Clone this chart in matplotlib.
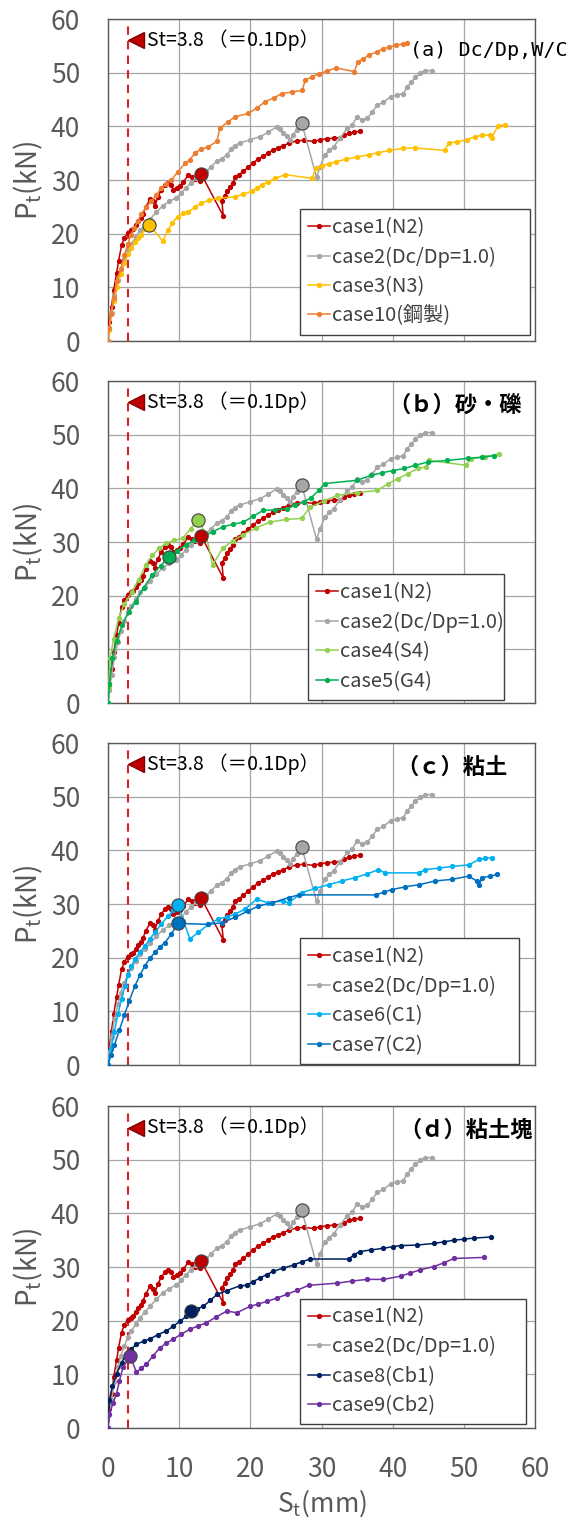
import matplotlib
matplotlib.use("Agg")
import matplotlib.pyplot as plt

plt.rcParams['font.family'] = ['Noto Sans CJK JP', 'DejaVu Sans']
plt.rcParams['mathtext.default'] = 'regular'

# ---- data (St in mm, Pt in kN) ----
case1_x = [0, 0.2, 0.5, 0.8, 1.2, 1.5, 1.9, 2.3, 2.8, 3.2, 3.5, 3.9, 4.2, 4.6, 4.9, 5.3, 5.9, 6.3, 6.6, 7.0,
           7.5, 8.0, 8.5, 8.9, 9.2, 9.7, 10.1, 10.6, 11.3, 11.8, 12.2, 12.9, 13.1, 16.2, 16.0, 16.4, 16.7, 17.2, 17.6, 17.8,
           18.4, 19.0, 19.7, 20.4, 21.1, 21.8, 22.5, 23.2, 23.9, 24.6, 25.5, 26.5, 27.5, 28.9, 29.8, 30.8, 31.7, 32.6, 33.2, 33.8,
           34.6, 35.4]
case1_y = [0, 3.5, 6.4, 9.5, 12.6, 15.0, 17.8, 19.2, 20.2, 20.6, 20.9, 21.6, 22.4, 23.0, 23.6, 25.0, 26.4, 26.0, 25.2, 26.8,
           28.2, 29.0, 29.5, 29.0, 28.2, 28.5, 28.9, 29.6, 31.0, 30.6, 30.1, 29.8, 31.1, 23.3, 26.1, 27.0, 27.9, 28.7, 29.5, 30.5,
           31.0, 31.6, 32.4, 33.2, 33.9, 34.4, 35.0, 35.6, 36.0, 36.4, 36.9, 37.3, 37.4, 37.2, 37.5, 37.7, 37.8, 37.9, 38.3, 38.7,
           38.9, 39.1]

case2_x = [0, 0.2, 0.5, 0.9, 1.4, 1.8, 2.3, 2.8, 3.3, 3.9, 4.5, 5.2, 5.9, 6.8, 7.7, 8.6, 9.6, 10.3, 11.0, 11.7,
           12.4, 13.1, 13.8, 14.5, 15.3, 16.0, 16.7, 17.3, 17.8, 18.5, 20.0, 21.4, 22.5, 23.7, 24.2, 24.6, 25.1, 25.6, 26.0, 26.5,
           27.2, 29.3, 29.8, 30.5, 31.1, 31.7, 32.6, 33.6, 34.3, 35.0, 35.7, 36.4, 37.1, 37.8, 38.7, 39.7, 40.6, 41.5, 42.0, 42.6,
           43.2, 43.9, 44.6, 45.5]
case2_y = [0, 2.5, 5.2, 8.5, 11.3, 13.5, 15.3, 17.0, 18.1, 19.4, 20.6, 21.6, 22.7, 24.0, 25.2, 26.0, 26.7, 27.6, 28.6, 29.5,
           30.4, 31.0, 31.6, 32.5, 33.5, 34.0, 34.7, 35.8, 36.4, 36.9, 37.5, 38.1, 38.9, 39.9, 39.5, 38.7, 38.2, 37.5, 38.4, 39.3,
           40.7, 30.5, 32.5, 34.7, 35.5, 36.2, 37.8, 39.6, 40.2, 41.8, 41.2, 41.5, 42.6, 43.9, 44.5, 45.5, 45.8, 46.1, 47.3, 48.2,
           49.2, 49.9, 50.4, 50.4]

case3_x = [0, 0.2, 0.4, 0.8, 1.2, 1.8, 2.3, 2.8, 3.2, 3.8, 4.2, 4.7, 5.2, 5.8, 7.7, 8.4, 9.0, 9.8, 10.5, 11.3,
           12.2, 13.1, 14.2, 15.5, 17.9, 19.0, 20.2, 21.0, 21.6, 22.5, 23.5, 24.9, 28.7, 29.2, 30.0, 31.0, 32.0, 33.5, 35.0, 36.7,
           38.0, 39.5, 41.4, 43.1, 47.3, 47.9, 49.0, 50.5, 51.6, 52.5, 53.7, 53.9, 54.8, 55.8]
case3_y = [0, 2.0, 5.0, 7.5, 10.0, 12.4, 14.5, 16.2, 17.3, 18.5, 19.2, 19.8, 20.8, 21.7, 18.6, 20.6, 22.0, 23.2, 23.8, 24.1,
           24.9, 25.7, 26.2, 26.6, 26.9, 27.4, 27.9, 28.6, 29.1, 29.6, 30.3, 31.0, 30.3, 32.2, 32.6, 33.0, 33.4, 33.9, 34.3, 34.7,
           35.1, 35.5, 35.9, 36.0, 35.5, 36.9, 37.1, 37.5, 38.1, 38.3, 38.4, 37.8, 40.1, 40.3]

case10_x = [0, 0.2, 0.4, 0.8, 1.2, 1.8, 2.3, 2.8, 3.2, 3.7, 4.2, 4.7, 5.4, 6.1, 6.8, 7.5, 8.2, 8.9, 9.8, 10.8,
            11.5, 12.2, 13.0, 14.1, 15.3, 15.7, 16.8, 17.9, 19.7, 21.0, 22.1, 23.3, 24.4, 25.8, 27.3, 27.7, 28.6, 29.6, 30.8, 32.0,
            34.6, 35.1, 35.9, 36.7, 37.8, 38.6, 39.5, 40.5, 41.4, 42.0]
case10_y = [0, 2.5, 5.0, 8.0, 11.1, 13.5, 16.1, 18.0, 19.8, 21.0, 22.3, 23.7, 25.0, 26.0, 27.2, 28.5, 29.3, 30.0, 31.5, 33.1,
            33.8, 35.0, 35.7, 36.2, 37.2, 39.6, 40.8, 41.8, 42.4, 43.5, 44.6, 45.3, 46.1, 46.4, 46.7, 48.6, 49.2, 49.8, 50.3, 50.9,
            50.2, 52.0, 52.6, 53.3, 53.9, 54.4, 54.8, 55.1, 55.4, 55.6]

case4_x = [0, 0.1, 0.3, 0.8, 1.5, 2.3, 3.4, 4.3, 5.3, 6.2, 7.2, 8.2, 9.3, 10.5, 11.6, 12.7, 13.8, 14.7, 16.1, 17.5,
           18.9, 20.8, 22.7, 25.0, 27.2, 28.4, 30.3, 32.2, 35.0, 37.8, 39.3, 40.7, 42.1, 43.5, 44.7, 45.1, 50.3, 51.0, 53.0, 55.0]
case4_y = [0, 3.0, 8.4, 12.0, 15.8, 18.5, 20.7, 23.0, 25.7, 27.5, 28.8, 29.8, 30.3, 30.7, 32.5, 34.1, 31.3, 25.7, 28.8, 30.2,
           31.3, 32.6, 33.7, 34.2, 34.4, 36.5, 37.6, 38.7, 39.2, 39.6, 40.8, 41.8, 42.7, 43.7, 44.0, 45.2, 44.3, 45.5, 45.9, 46.4]

case5_x = [0, 0.2, 0.6, 1.2, 2.0, 2.9, 3.9, 5.0, 6.2, 7.4, 8.6, 9.7, 10.9, 12.1, 13.3, 14.7, 16.1, 17.5, 19.0, 20.4,
           21.8, 23.5, 25.1, 26.3, 27.5, 28.5, 29.6, 30.5, 35.0, 36.9, 38.5, 40.0, 41.6, 43.2, 44.9, 47.7, 50.6, 52.5, 54.3]
case5_y = [0, 3.5, 8.4, 11.5, 14.6, 16.9, 18.9, 21.5, 23.8, 25.6, 27.2, 28.4, 29.4, 30.3, 31.0, 31.9, 32.8, 33.3, 33.7, 34.8,
           35.9, 36.0, 36.2, 36.9, 37.5, 38.2, 39.6, 40.9, 41.5, 42.4, 42.9, 43.3, 43.7, 44.3, 44.9, 45.2, 45.6, 45.8, 46.1]

case6_x = [0, 0.4, 0.9, 1.4, 1.9, 2.4, 2.8, 3.3, 3.8, 4.5, 5.2, 5.9, 6.6, 7.5, 8.5, 9.2, 9.8, 10.6, 11.5, 12.7,
           14.1, 15.5, 16.7, 17.8, 19.2, 20.9, 22.5, 24.6, 25.4, 27.2, 29.1, 31.0, 32.9, 34.7, 36.4, 38.0, 38.9, 43.7, 44.6, 46.5,
           48.4, 50.7, 52.1, 53.0, 54.0]
case6_y = [0, 3.0, 6.2, 9.5, 12.3, 14.8, 16.7, 18.4, 19.8, 21.0, 22.2, 23.5, 24.7, 26.3, 27.8, 28.8, 29.8, 26.9, 23.5, 24.7,
           26.2, 27.2, 27.6, 28.1, 29.0, 30.9, 30.2, 30.6, 30.2, 32.1, 32.9, 33.6, 34.3, 34.9, 35.6, 36.4, 35.8, 35.8, 36.4, 36.7,
           37.0, 37.3, 38.3, 38.5, 38.6]

case7_x = [0, 0.4, 0.9, 1.6, 2.3, 3.0, 3.8, 4.5, 5.2, 5.9, 6.6, 7.3, 8.0, 8.9, 9.8, 14.1, 16.0, 17.8, 19.7, 21.1,
           23.0, 25.4, 26.8, 37.6, 38.8, 39.9, 41.8, 43.7, 46.0, 48.4, 50.7, 51.8, 52.1, 52.6, 53.7, 54.7]
case7_y = [0, 1.8, 3.7, 6.5, 9.3, 12.0, 14.8, 16.8, 18.5, 19.9, 21.0, 22.0, 22.8, 24.4, 26.4, 26.2, 26.5, 27.5, 28.7, 29.6,
           30.2, 31.2, 31.7, 31.7, 32.2, 32.7, 33.2, 33.6, 34.3, 34.6, 35.2, 34.3, 33.6, 34.9, 35.2, 35.5]

case8_x = [0, 0.2, 0.6, 1.2, 1.9, 2.6, 3.3, 4.0, 5.0, 5.9, 7.0, 8.2, 9.2, 10.1, 11.0, 11.7, 12.5, 13.4, 14.4, 15.3,
           16.7, 18.5, 19.5, 20.4, 21.4, 22.3, 23.2, 24.6, 26.1, 27.3, 28.4, 33.8, 34.6, 35.4, 37.0, 38.7, 40.0, 41.1, 43.4, 45.8,
           47.2, 48.6, 50.0, 51.4, 53.8]
case8_y = [0, 5.2, 7.8, 10.1, 12.2, 13.8, 14.8, 15.6, 16.2, 16.6, 17.4, 18.1, 19.0, 19.9, 20.8, 21.8, 22.2, 22.7, 23.8, 24.9,
           25.6, 26.5, 26.6, 27.3, 28.0, 28.6, 29.2, 29.8, 30.4, 31.0, 31.5, 31.5, 32.3, 32.9, 33.2, 33.5, 33.8, 34.0, 34.1, 34.4,
           34.7, 35.0, 35.2, 35.4, 35.6]

case9_x = [0, 0.2, 0.7, 1.2, 1.6, 2.1, 3.1, 4.0, 4.7, 5.4, 6.3, 7.3, 8.2, 9.2, 10.3, 11.5, 12.6, 13.8, 15.2, 16.7,
           18.1, 20.0, 21.1, 22.3, 23.7, 25.1, 26.6, 28.2, 32.2, 34.3, 36.4, 38.7, 41.1, 42.5, 43.9, 45.8, 47.2, 48.6, 52.8]
case9_y = [0, 2.7, 4.6, 6.4, 8.8, 11.3, 13.4, 10.4, 11.2, 11.9, 13.4, 15.0, 15.8, 16.6, 17.5, 18.4, 19.0, 19.6, 20.7, 21.8,
           21.5, 22.7, 23.1, 23.6, 24.2, 24.9, 25.7, 26.6, 27.0, 27.4, 27.7, 27.7, 28.3, 28.9, 29.5, 30.1, 30.8, 31.6, 31.8]

# failure points (large circles)
fail_x = {'case1': 13.1, 'case2': 27.2, 'case3': 5.8, 'case4': 12.7, 'case5': 8.6,
          'case6': 9.8, 'case7': 9.8, 'case8': 11.7, 'case9': 3.1}
fail_y = {'case1': 31.1, 'case2': 40.7, 'case3': 21.7, 'case4': 34.1, 'case5': 27.2,
          'case6': 29.8, 'case7': 26.4, 'case8': 21.8, 'case9': 13.4}

series = {
    'case1': (case1_x, case1_y, 'case1(N2)', '#C00000'),
    'case2': (case2_x, case2_y, 'case2(Dc/Dp=1.0)', '#A6A6A6'),
    'case3': (case3_x, case3_y, 'case3(N3)', '#FFC000'),
    'case10': (case10_x, case10_y, 'case10(鋼製)', '#ED7D31'),
    'case4': (case4_x, case4_y, 'case4(S4)', '#92D050'),
    'case5': (case5_x, case5_y, 'case5(G4)', '#00B050'),
    'case6': (case6_x, case6_y, 'case6(C1)', '#00B0F0'),
    'case7': (case7_x, case7_y, 'case7(C2)', '#0070C0'),
    'case8': (case8_x, case8_y, 'case8(Cb1)', '#002060'),
    'case9': (case9_x, case9_y, 'case9(Cb2)', '#7030A0'),
}

panels = [
    (['case1', 'case2', 'case3', 'case10'], '(a) Dc/Dp,W/C', (0.45, 0.02, 0.538, 0.38)),
    (['case1', 'case2', 'case4', 'case5'], '（ｂ）砂・礫', (0.468, 0.01, 0.459, 0.38)),
    (['case1', 'case2', 'case6', 'case7'], '（ｃ）粘土', (0.45, 0.003, 0.512, 0.38)),
    (['case1', 'case2', 'case8', 'case9'], '（ｄ）粘土塊', (0.45, 0.012, 0.529, 0.38)),
]

st_line = 2.8
gray = '#595959'

fig = plt.figure(figsize=(5.86, 15.21), dpi=100)
bottoms = [0.7758, 0.5378, 0.2998, 0.0611]

for i, (cases, title, leg_box) in enumerate(panels):
    ax = fig.add_axes([0.1843, bottoms[i], 0.7287, 0.2117])
    for c in cases:
        xs, ys, lab, col = series[c]
        ax.plot(xs, ys, color=col, lw=1.1, marker='o', ms=2.8, label=lab, zorder=3)
    for c in cases:
        if c in fail_x:
            col = series[c][3]
            ax.plot(fail_x[c], fail_y[c], 'o', ms=9.5, mfc=col, mec='#404040', mew=0.8, zorder=4)

    ax.axvline(st_line, color='#E02020', ls=(0, (4, 3)), lw=1.5, zorder=2)
    ax.plot(4.0, 56, marker='<', ms=12, color='#C00000', mec='#7F0000', zorder=5)
    ax.text(5.5, 56, 'St=3.8 （＝0.1Dp）', fontsize=14, va='center', ha='left', color='black', zorder=5)

    if i == 0:
        ax.text(42.4, 54.2, title, fontsize=14.5, va='center', ha='left',
                family=['DejaVu Sans Mono', 'Noto Sans CJK JP'], clip_on=False)
    else:
        right_x = [58.1, 56.2, 59.7][i - 1]
        ax.text(right_x, 55.5, title, fontsize=16, fontweight='bold', va='center', ha='right')

    ax.set_xlim(0, 60)
    ax.set_ylim(0, 60)
    ax.set_xticks(range(0, 61, 10))
    ax.set_yticks(range(0, 61, 10))
    ax.grid(True, color='#A6A6A6', lw=0.9)
    ax.set_axisbelow(True)
    for sp in ax.spines.values():
        sp.set_color('#595959')
        sp.set_linewidth(1.0)
    ax.tick_params(length=0, labelsize=19, labelcolor=gray, pad=20)
    if i < 3:
        ax.tick_params(labelbottom=False)
    else:
        ax.set_xlabel('S$_t$(mm)', fontsize=19, color=gray, labelpad=3)
    ax.set_ylabel('P$_t$(kN)', fontsize=20, color=gray, labelpad=4)

    leg = ax.legend(loc='lower left', bbox_to_anchor=leg_box, mode='expand', fontsize=14.5,
                    frameon=True, fancybox=False, edgecolor='#404040', framealpha=1,
                    handlelength=1.1, handletextpad=0.1, labelspacing=0.42, borderpad=0.4,
                    borderaxespad=0)
    leg.get_frame().set_linewidth(1.0)
    for t in leg.get_texts():
        t.set_color('#404040')
    leg.set_zorder(10)

fig.savefig('out.png', dpi=100)
